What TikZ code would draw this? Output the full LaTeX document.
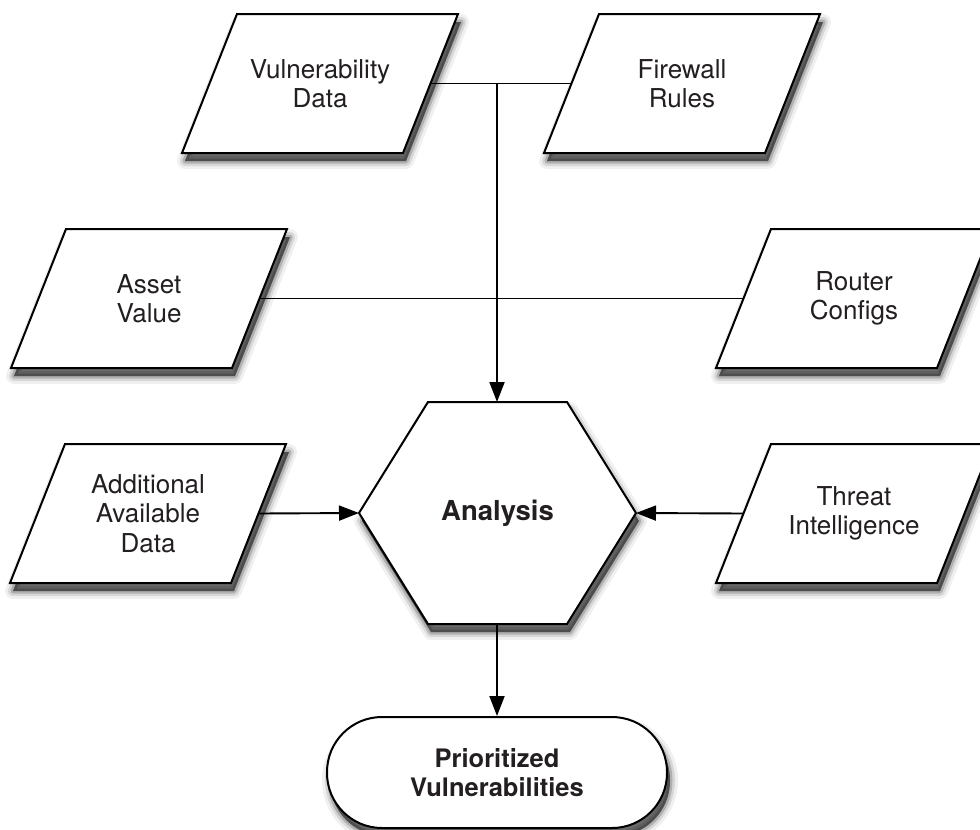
\documentclass[tikz,border=0pt]{standalone}
\usepackage{fontspec}
\setmainfont{TeX Gyre Heros}
\usetikzlibrary{arrows.meta,calc}
\definecolor{textc}{RGB}{35,31,32}
\tikzset{
  shp/.style={draw=black, line width=2pt, fill=white, line join=miter,
    preaction={fill=black, fill opacity=0.12, draw=black, draw opacity=0.06, line width=16pt,
      line join=round, transform canvas={xshift=3pt, yshift=-8pt}},
    preaction={fill=black, fill opacity=0.15, draw=black, draw opacity=0.10, line width=10pt,
      line join=round, transform canvas={xshift=3pt, yshift=-8pt}},
    preaction={fill=black, fill opacity=0.20, draw=black, draw opacity=0.18, line width=5pt,
      line join=round, transform canvas={xshift=3pt, yshift=-8pt}},
    preaction={fill=black, fill opacity=0.25, transform canvas={xshift=3pt, yshift=-8pt}}},
  lbl/.style={align=center, inner sep=0pt, text=textc,
    font=\fontsize{26}{29.5}\selectfont},
  conn/.style={draw=black, line width=1.9pt},
  arr/.style={-{Triangle[length=20pt,width=15pt]}}
}
\newcommand\parabox[4]{% name, top-left x, top y, text
  \path[shp] (#2,#3) -- ++(221,0) -- ++(-55,139) -- ++(-221,0) -- cycle;
  \node[lbl] (#1) at ($(#2,#3)+(83,69.5)$) {#4};
  \coordinate (#1-r) at ($(#2,#3)+(193.5,69.5)$);
  \coordinate (#1-l) at ($(#2,#3)+(-27.5,69.5)$);
}
\begin{document}
\begin{tikzpicture}[x=1pt,y=-1pt]
\useasboundingbox (0,0) rectangle (980,830);
\fill[white] (0,0) rectangle (980,830);

% input parallelograms
\parabox{vd}{237}{14}{Vulnerability\\Data}
\parabox{fr}{599}{14}{Firewall\\Rules}
\parabox{av}{66}{229}{Asset\\Value}
\parabox{rc}{771}{229}{Router\\Configs}
\parabox{ad}{65}{444}{Additional\\Available\\Data}
\parabox{ti}{771}{444}{Threat\\Intelligence}

% analysis hexagon
\path[shp] (359,513) -- (428,402) -- (567,402) -- (636,513) -- (567,624) -- (428,624) -- cycle;
\node[lbl, font=\fontsize{27.5}{31}\selectfont\bfseries] (an) at (497.5,513) {Analysis};
\coordinate (an-l) at (359,513);
\coordinate (an-r) at (636,513);
\coordinate (an-t) at (497,402);
\coordinate (an-b) at (497,624);

% output terminator
\node[shp, rounded corners=55pt, minimum width=340pt, minimum height=111pt,
      lbl, font=\fontsize{25.5}{29.5}\selectfont\bfseries] (pv) at (497,772.5)
      {Prioritized\\Vulnerabilities};

% connectors
\coordinate (j) at (vd-r -| an-t);
\draw[conn] (vd-r) -- (fr-l);
\draw[conn] (av-r) -- (rc-l);
\draw[conn,arr] (j) -- (an-t);
\draw[conn,arr] (ad-r) -- (an-l);
\draw[conn,arr] (ti-l) -- (an-r);
\draw[conn,arr] (an-b) -- (pv.north);
\end{tikzpicture}
\end{document}
